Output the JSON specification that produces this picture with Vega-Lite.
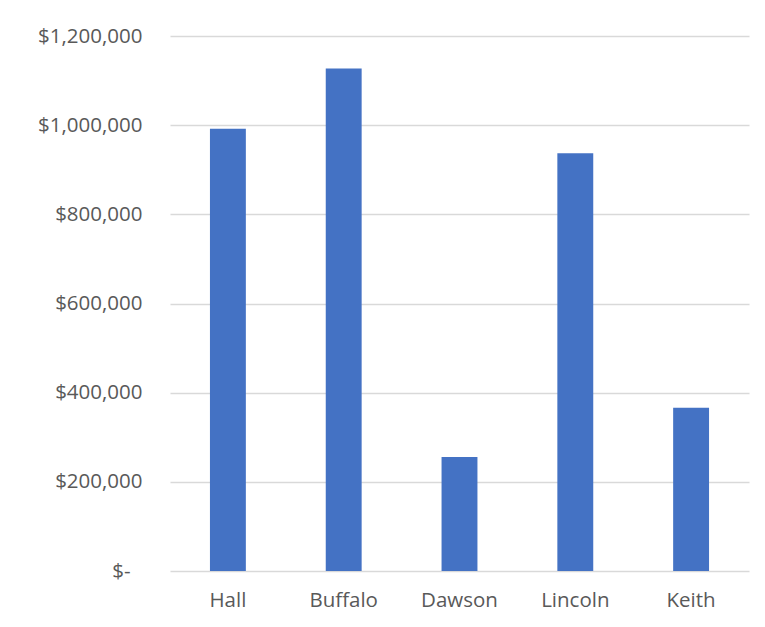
{
  "$schema": "https://vega.github.io/schema/vega-lite/v6.json",
  "autosize": "none",
  "width": 579,
  "height": 535,
  "padding": {"left": 170, "top": 36, "right": 16, "bottom": 56},
  "background": "white",
  "data": {"values": [
    {"county": "Hall", "amount": 992000},
    {"county": "Buffalo", "amount": 1127000},
    {"county": "Dawson", "amount": 255600},
    {"county": "Lincoln", "amount": 937000},
    {"county": "Keith", "amount": 366000}
  ]},
  "mark": {"type": "bar", "color": "#4472C4"},
  "encoding": {
    "x": {
      "field": "county", "type": "nominal", "sort": null,
      "scale": {"paddingInner": 0.69, "paddingOuter": 0.345},
      "axis": {"title": null, "labelAngle": 0, "ticks": false, "domain": false,
               "labelFont": "Open Sans", "labelFontSize": 20.5, "labelColor": "#595959", "labelPadding": 19}
    },
    "y": {
      "field": "amount", "type": "quantitative",
      "scale": {"domain": [0, 1200000]},
      "axis": {"title": null, "values": [0, 200000, 400000, 600000, 800000, 1000000, 1200000],
               "labelOverlap": false, "ticks": false, "domain": false, "gridColor": "#d9d9d9", "gridWidth": 1.3,
               "labelFont": "Open Sans", "labelFontSize": 20.5, "labelColor": "#595959",
               "labelPadding": {"condition": {"test": "datum.value === 0", "value": 40}, "value": 28},
               "labelExpr": "datum.value === 0 ? '$-' : format(datum.value, '$,.0f')"}
    }
  },
  "config": {"view": {"stroke": null}}
}
